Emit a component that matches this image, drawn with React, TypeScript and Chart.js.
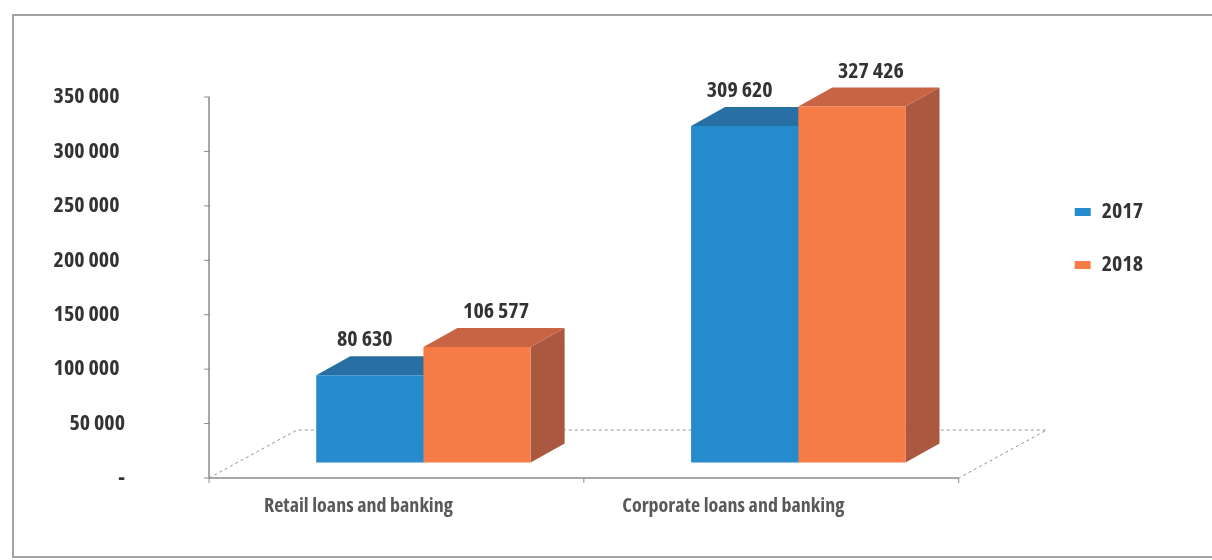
import React, { useEffect, useRef } from "react";
import { Chart, registerables } from "chart.js";

Chart.register(...registerables);

// ---- data ----
const categories = ["Retail loans and banking", "Corporate loans and banking"];
const seriesNames = ["2017", "2018"];
const values2017 = [80630, 309620];
const values2018 = [106577, 327426];
const yMin = 0;
const yMax = 350000;
const yStep = 50000;

// ---- style ----
const FONT = "'Open Sans', 'Roboto Condensed', sans-serif";
const WEIGHT = "bold condensed";
const faceColors = [
  { front: "#268BCC", top: "#2870A3", side: "#1F5F8A" },
  { front: "#F57B47", top: "#C86444", side: "#AA5840" },
];
const DEPTH_X = 34;
const DEPTH_Y = 19;
const WALL_DROP = 15;
const FLOOR_SHIFT = 27;
const FLOOR_DX = 88;
const FLOOR_DY = 48;
const LABEL_DX = [-5, 19];
const LABEL_DY = 35;

const fmt = (v: number) =>
  v === 0 ? "-" : String(Math.round(v)).replace(/\B(?=(\d{3})+(?!\d))/g, " ");

const threeDPlugin = {
  id: "threeD",
  beforeDatasetsDraw(chart: any) {
    const { ctx, chartArea, scales } = chart;
    const ys = scales.y;
    const zeroY = ys.getPixelForValue(yMin) + WALL_DROP;
    const topY = ys.getPixelForValue(yMax) + WALL_DROP;
    const fl = chartArea.left - FLOOR_SHIFT;
    const fr = chartArea.right - FLOOR_SHIFT;
    ctx.save();
    // floor (back and side edges dashed)
    ctx.strokeStyle = "#949494";
    ctx.lineWidth = 1;
    ctx.setLineDash([3, 3]);
    ctx.beginPath();
    ctx.moveTo(fl, zeroY);
    ctx.lineTo(fl + FLOOR_DX, zeroY - FLOOR_DY);
    ctx.lineTo(fr + FLOOR_DX, zeroY - FLOOR_DY);
    ctx.lineTo(fr, zeroY);
    ctx.stroke();
    ctx.setLineDash([]);
    // front floor edge and vertical axis
    ctx.strokeStyle = "#8c8c8c";
    ctx.lineWidth = 1.5;
    ctx.beginPath();
    ctx.moveTo(fl, zeroY);
    ctx.lineTo(fr, zeroY);
    ctx.moveTo(fl, topY);
    ctx.lineTo(fl, zeroY);
    ctx.stroke();
    // tick marks
    ctx.lineWidth = 1;
    ctx.beginPath();
    ys.ticks.forEach((t: any) => {
      const py = ys.getPixelForValue(t.value) + WALL_DROP;
      ctx.moveTo(fl - 5, py);
      ctx.lineTo(fl + 1, py);
    });
    [fl, (fl + fr) / 2, fr].forEach((px) => {
      ctx.moveTo(px, zeroY);
      ctx.lineTo(px, zeroY + 5);
    });
    ctx.stroke();
    // 3D side and top faces of bars
    chart.data.datasets.forEach((_: any, di: number) => {
      const meta = chart.getDatasetMeta(di);
      meta.data.forEach((el: any) => {
        const { x, y, base, width } = el.getProps(["x", "y", "base", "width"], true);
        const x0 = x - width / 2;
        const x1 = x + width / 2;
        ctx.fillStyle = faceColors[di].side;
        ctx.beginPath();
        ctx.moveTo(x1, y);
        ctx.lineTo(x1 + DEPTH_X, y - DEPTH_Y);
        ctx.lineTo(x1 + DEPTH_X, base - DEPTH_Y);
        ctx.lineTo(x1, base);
        ctx.closePath();
        ctx.fill();
        ctx.fillStyle = faceColors[di].top;
        ctx.beginPath();
        ctx.moveTo(x0, y);
        ctx.lineTo(x1, y);
        ctx.lineTo(x1 + DEPTH_X, y - DEPTH_Y);
        ctx.lineTo(x0 + DEPTH_X, y - DEPTH_Y);
        ctx.closePath();
        ctx.fill();
      });
    });
    ctx.restore();
  },
  afterDatasetsDraw(chart: any) {
    const { ctx } = chart;
    ctx.save();
    ctx.font = `${WEIGHT} 22px ${FONT}`;
    ctx.fillStyle = "#333333";
    ctx.textAlign = "center";
    ctx.textBaseline = "middle";
    chart.data.datasets.forEach((ds: any, di: number) => {
      const meta = chart.getDatasetMeta(di);
      meta.data.forEach((el: any, i: number) => {
        const { x, y } = el.getProps(["x", "y"], true);
        ctx.fillText(fmt(ds.data[i]), x + LABEL_DX[di], y - LABEL_DY);
      });
    });
    ctx.restore();
  },
};

export default function App() {
  const ref = useRef<HTMLCanvasElement>(null);
  useEffect(() => {
    const canvas = ref.current!;
    const chart = new Chart(canvas, {
      type: "bar",
      data: {
        labels: categories,
        datasets: [
          { label: seriesNames[0], data: values2017, backgroundColor: faceColors[0].front, borderWidth: 0 },
          { label: seriesNames[1], data: values2018, backgroundColor: faceColors[1].front, borderWidth: 0 },
        ],
      },
      options: {
        responsive: false,
        animation: false,
        layout: { padding: { top: 82, left: 0, right: 59, bottom: 0 } },
        datasets: { bar: { categoryPercentage: 0.572, barPercentage: 1 } },
        scales: {
          x: {
            offset: true,
            grid: { display: true, drawOnChartArea: false, drawTicks: true, tickLength: 31, color: "rgba(0,0,0,0)" },
            border: { display: false },
            ticks: {
              color: "#595959",
              font: { family: FONT, size: 20, weight: WEIGHT },
              padding: 0,
              labelOffset: -65,
              maxRotation: 0,
            },
            afterFit: (s: any) => { s.height = 97; },
          },
          y: {
            min: yMin,
            max: yMax,
            grid: { display: true, drawOnChartArea: false, drawTicks: true, tickLength: 106, color: "rgba(0,0,0,0)" },
            border: { display: false },
            ticks: {
              stepSize: yStep,
              color: "#333333",
              font: { family: FONT, size: 22, weight: WEIGHT },
              padding: 5,
              labelOffset: WALL_DROP,
              callback: (v: any) => (Number(v) >= 100000 ? fmt(Number(v)) + "\u2005" : fmt(Number(v))),
            },
            afterFit: (s: any) => { s.width = 236; },
          },
          yR: {
            position: "right",
            display: true,
            grid: { display: false, drawTicks: false },
            border: { display: false },
            ticks: { display: false },
            afterFit: (s: any) => { s.width = 58; },
          },
        },
        plugins: {
          tooltip: { enabled: false },
          legend: {
            position: "right",
            align: "start",
            title: { display: true, text: " ", font: { size: 12 }, padding: { top: 73.6, bottom: 0 } },
            labels: {
              boxWidth: 16,
              boxHeight: 8,
              padding: 31,
              color: "#333333",
              font: { family: FONT, size: 22, weight: WEIGHT },
            },
          },
        },
      },
      plugins: [threeDPlugin],
    } as any);
    return () => chart.destroy();
  }, []);
  return (
    <div style={{ position: "absolute", left: 0, top: 0, width: 1212, height: 560, background: "#fff", overflow: "hidden" }}>
      <div
        style={{
          position: "absolute",
          left: 12,
          top: 14,
          width: 1230,
          height: 544,
          borderLeft: "2px solid #a3a3a3",
          borderTop: "2px solid #a3a3a3",
          borderBottom: "2px solid #a3a3a3",
          boxSizing: "border-box",
        }}
      />
      <canvas ref={ref} width={1212} height={560} style={{ position: "absolute", left: 0, top: 0 }} />
    </div>
  );
}
